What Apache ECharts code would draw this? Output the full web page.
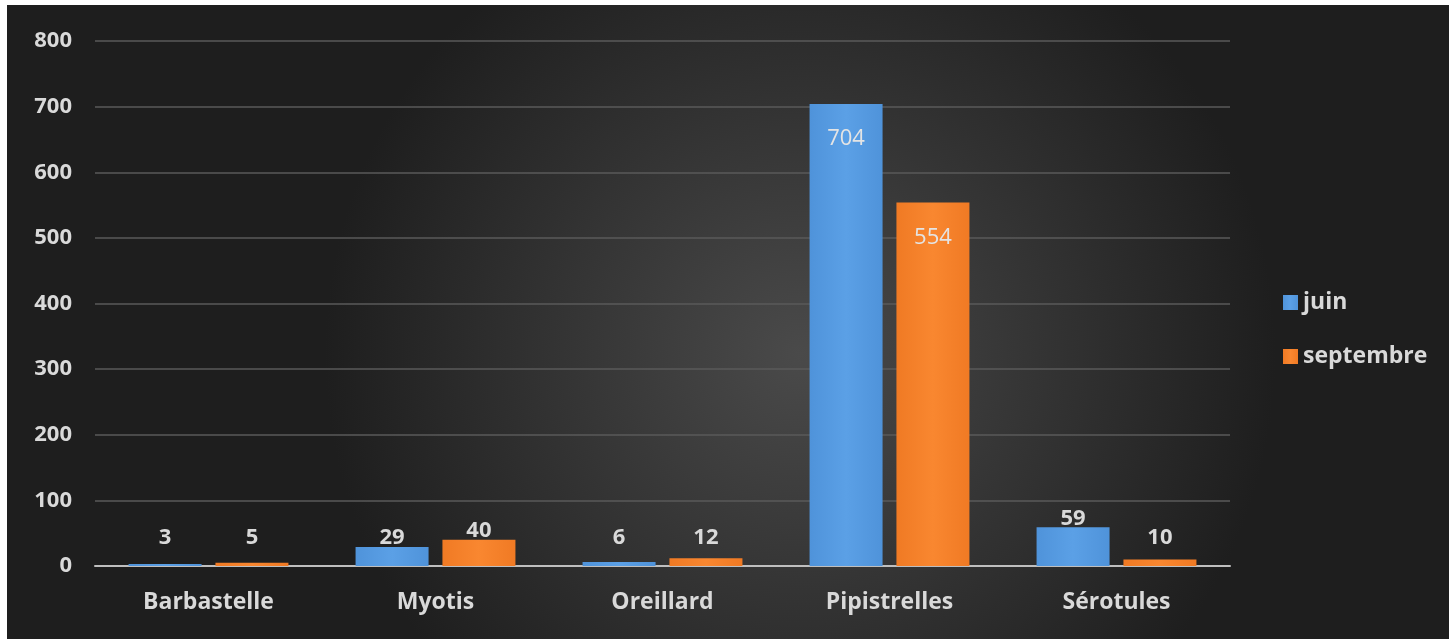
<!DOCTYPE html>
<html><head><meta charset="utf-8">
<script src="https://cdn.jsdelivr.net/npm/echarts@6/dist/echarts.min.js"></script>
<style>
html,body{margin:0;padding:0;background:#fff;width:1449px;height:639px;overflow:hidden}
#c{position:absolute;left:7px;top:5px;width:1442px;height:634px}
</style></head>
<body><div id="c"></div>
<script>
var categories = ['Barbastelle','Myotis','Oreillard','Pipistrelles','Sérotules'];
var juin = [3, 29, 6, 704, 59];
var septembre = [5, 40, 12, 554, 10];
var yTicks = [0, 100, 200, 300, 400, 500, 600, 700, 800];

var FONT = '"Open Sans"';
var chart = echarts.init(document.getElementById('c'));
var plotH = 634 - 36 - 73;
var pxPerUnit = plotH / 800;
function labelFor(v){
  if (v > 300) {
    return {show:true, position:'insideTop', distance:24, color:'#e4e4e4', fontSize:22, fontFamily:FONT, fontWeight:'normal'};
  }
  var d = Math.max(-2, 17 - v * pxPerUnit);
  return {show:true, position:'top', distance:d, color:'#d9d9d9', fontSize:22, fontFamily:FONT, fontWeight:'bold'};
}
function mk(arr){ return arr.map(function(v){ return {value:v, label:labelFor(v)}; }); }
var blue = {type:'linear',x:0,y:0,x2:1,y2:0,colorStops:[{offset:0,color:'#4f93da'},{offset:0.5,color:'#5ba0e6'},{offset:1,color:'#4f93da'}]};
var orange = {type:'linear',x:0,y:0,x2:1,y2:0,colorStops:[{offset:0,color:'#f07a24'},{offset:0.5,color:'#f98730'},{offset:1,color:'#f07a24'}]};

chart.setOption({
  animation:false,
  backgroundColor:{type:'radial',x:0.55,y:0.55,r:0.75,colorStops:[{offset:0,color:'#4a4a4a'},{offset:1,color:'#1e1e1e'}]},
  textStyle:{fontFamily:FONT},
  grid:{left:88, right:219, top:36, bottom:73, containLabel:false},
  legend:{
    orient:'vertical', left:1271, top:281, itemWidth:15, itemHeight:15, itemGap:31,
    icon:'rect',
    textStyle:{color:'#d9d9d9', fontSize:23, fontWeight:'bold', fontFamily:FONT},
    data:['juin','septembre']
  },
  xAxis:{
    type:'category', data:categories,
    axisLine:{show:true, lineStyle:{color:'#bfbfbf', width:2}},
    axisTick:{show:false},
    axisLabel:{color:'#d9d9d9', fontSize:23, fontWeight:'bold', margin:25, fontFamily:FONT}
  },
  yAxis:{
    type:'value', min:0, max:800, interval:100,
    axisLine:{show:false}, axisTick:{show:false},
    axisLabel:{color:'#d9d9d9', fontSize:22, fontWeight:'bold', margin:23, fontFamily:FONT,
      formatter:function(v){ return yTicks.indexOf(v) >= 0 ? String(v) : ''; }},
    splitLine:{lineStyle:{color:'#5a5a5a', width:1.5}}
  },
  series:[
    {name:'juin', type:'bar', data:mk(juin), barWidth:73, barGap:'19%', itemStyle:{color:blue}},
    {name:'septembre', type:'bar', data:mk(septembre), barWidth:73, barGap:'19%', itemStyle:{color:orange}}
  ]
});
</script></body></html>
